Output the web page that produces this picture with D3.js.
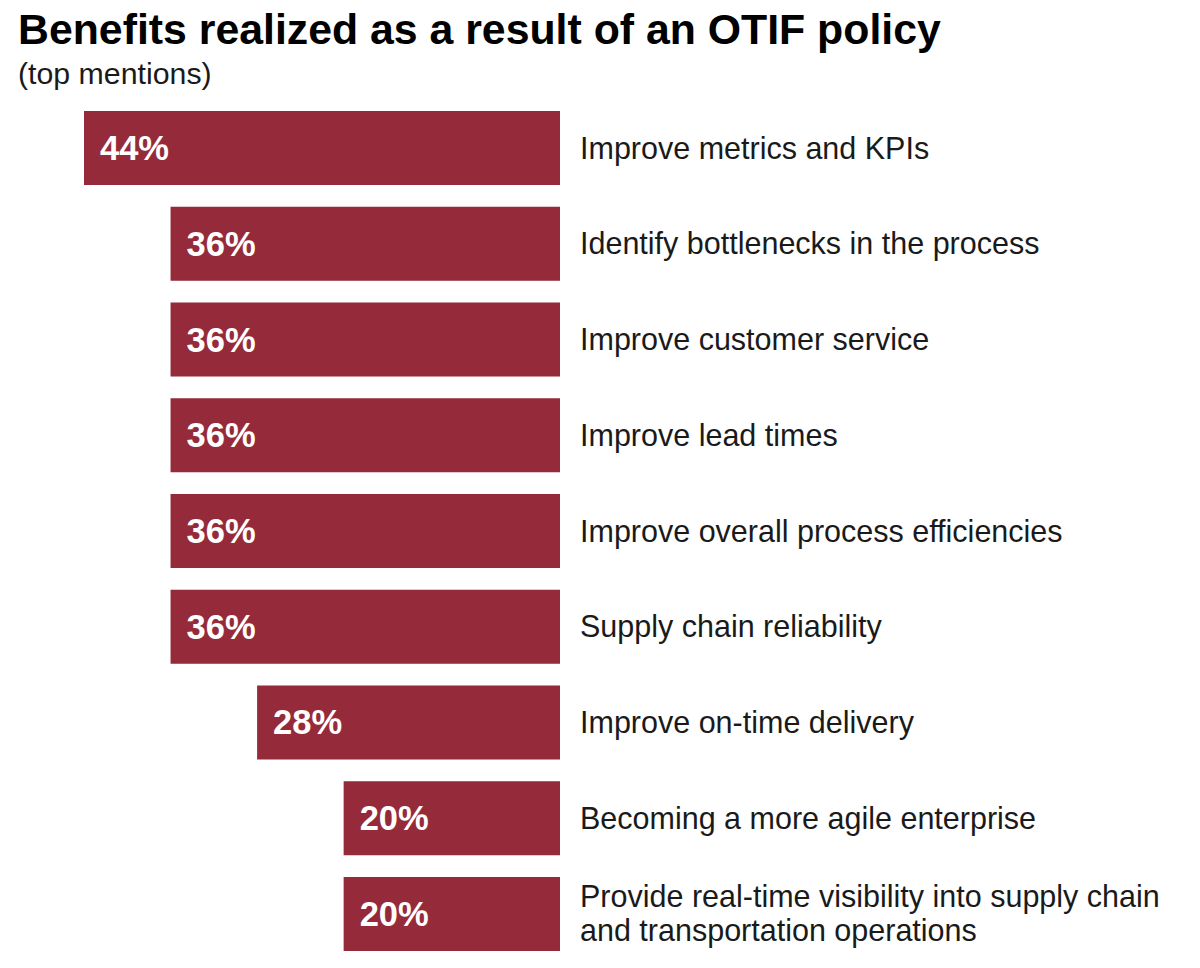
<!DOCTYPE html>
<html>
<head>
<meta charset="utf-8">
<script src="https://cdn.jsdelivr.net/npm/d3@7/dist/d3.min.js"></script>
<style>
  html, body { margin: 0; padding: 0; background: #ffffff; }
  svg { display: block; }
</style>
</head>
<body>
<svg id="chart" width="1200" height="968"></svg>
<script>
const title = "Benefits realized as a result of an OTIF policy";
const subtitle = "(top mentions)";
const categories = [
  ["Improve metrics and KPIs"],
  ["Identify bottlenecks in the process"],
  ["Improve customer service"],
  ["Improve lead times"],
  ["Improve overall process efficiencies"],
  ["Supply chain reliability"],
  ["Improve on-time delivery"],
  ["Becoming a more agile enterprise"],
  ["Provide real-time visibility into supply chain", "and transportation operations"]
];
const values = [44, 36, 36, 36, 36, 36, 28, 20, 20];

const svg = d3.select("#chart");
const font = "'Liberation Sans', Arial, Helvetica, sans-serif";

svg.append("text")
  .attr("x", 18).attr("y", 44)
  .attr("font-family", font).attr("font-weight", "bold")
  .attr("font-size", 42.8).attr("fill", "#000")
  .text(title);

svg.append("text")
  .attr("x", 18).attr("y", 84)
  .attr("font-family", font)
  .attr("font-size", 30.3).attr("fill", "#1a1a1a")
  .text(subtitle);

const idx = d3.range(values.length);
const y = d3.scaleBand().domain(idx).range([111, 951]).paddingInner(0.227).paddingOuter(0);
const x = d3.scaleLinear().domain([0, 44]).range([560, 84]);

const g = svg.append("g");
g.selectAll("rect").data(idx).join("rect")
  .attr("x", i => x(values[i]))
  .attr("y", i => y(i))
  .attr("width", i => x(0) - x(values[i]))
  .attr("height", y.bandwidth())
  .attr("fill", "#952b3a");

g.selectAll("text.val").data(idx).join("text")
  .attr("class", "val")
  .attr("x", i => x(values[i]) + 16)
  .attr("y", i => y(i) + y.bandwidth() / 2 + 12)
  .attr("font-family", font).attr("font-weight", "bold")
  .attr("font-size", 34.5).attr("fill", "#fff")
  .text(i => values[i] + "%");

const lineH = 34;
g.selectAll("text.cat").data(idx).join("text")
  .attr("class", "cat")
  .attr("font-family", font)
  .attr("font-size", 30.5).attr("fill", "#1a1a1a")
  .each(function(i) {
    const lines = categories[i];
    const cy = y(i) + y.bandwidth() / 2 + 10.5;
    const start = cy - (lines.length - 1) * lineH / 2;
    d3.select(this).selectAll("tspan").data(lines).join("tspan")
      .attr("x", x(0) + 20)
      .attr("y", (d, k) => start + k * lineH)
      .text(d => d);
  });
</script>
</body>
</html>
